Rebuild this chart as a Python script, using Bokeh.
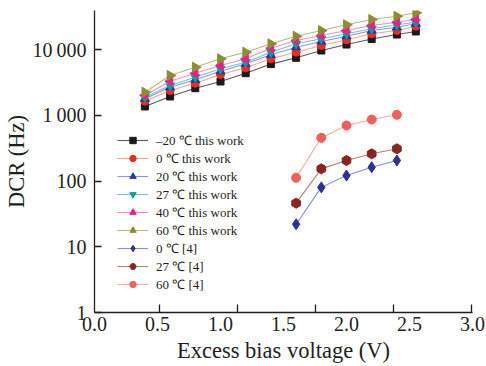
import numpy as np
from bokeh.plotting import figure
from bokeh.models import FixedTicker, NumeralTickFormatter, CustomJSTickFormatter
from bokeh.embed import file_html
from bokeh.resources import INLINE

# ---- data ----
x_this = [0.4, 0.6, 0.8, 1.0, 1.2, 1.4, 1.6, 1.8, 2.0, 2.2, 2.4, 2.55]
dcr_m20 = [1360, 1930, 2580, 3260, 4360, 6000, 7480, 9660, 11900, 14450, 16900, 18800]
dcr_0 = [1640, 2380, 3070, 4170, 5270, 7220, 9100, 11500, 14050, 17330, 19450, 22600]
dcr_20 = [1780, 2670, 3460, 4680, 6060, 8300, 10840, 13240, 15930, 19450, 21830, 24600]
dcr_27 = [1880, 2830, 3790, 5090, 6410, 9100, 12210, 14550, 17330, 20640, 23750, 26010]
dcr_40 = [2000, 3300, 4360, 5710, 7220, 10470, 13700, 16330, 19450, 23180, 26010, 28590]
dcr_60 = [2240, 4030, 5380, 7220, 9100, 12210, 15930, 19450, 23750, 28590, 32130, 36130]

x_ref = [1.6, 1.8, 2.0, 2.2, 2.4]
ref_0 = [22, 80, 121, 162, 205]
ref_27 = [46, 153, 205, 259, 309]
ref_60 = [112, 454, 698, 861, 1016]

x_label_ticks = [0.0, 0.5, 1.0, 1.5, 2.0, 2.5, 3.0]
x_mark_ticks = [0.515, 1.135, 1.755, 2.375, 2.995]
y_ticks = [1, 10, 100, 1000, 10000]
y_tick_labels = ["1", "10", "100", "1\u2009000", "10\u2009000"]

labels = ["\u201320 \u2103 this work", "0 \u2103 this work", "20 \u2103 this work",
          "27 \u2103 this work", "40 \u2103 this work", "60 \u2103 this work",
          "0 \u2103 [4]", "27 \u2103 [4]", "60 \u2103 [4]"]

FONT = "Liberation Serif"
INK = "#231f20"

p = figure(width=486, height=366, output_backend="svg", toolbar_location=None,
           y_axis_type="log", x_range=(0, 3.0), y_range=(1, 39200),
           min_border_left=94, min_border_right=14, min_border_top=10, min_border_bottom=54)
p.outline_line_color = None
p.xgrid.visible = False
p.ygrid.visible = False
p.background_fill_color = "white"
p.border_fill_color = "white"

series = [
    (x_this, dcr_m20, "square", 0.0, 7, "#1a1a1a", "#5a5a5a"),
    (x_this, dcr_0, "circle", 0.0, 8, "#ee2a24", "#f6a58c"),
    (x_this, dcr_20, "triangle", 0.0, 9, "#2b3990", "#8a96d8"),
    (x_this, dcr_27, "inverted_triangle", 0.0, 9, "#139a9e", "#6cc8cc"),
    (x_this, dcr_40, "triangle", np.pi / 2, 9, "#ec1c8c", "#f58cc4"),
    (x_this, dcr_60, "triangle", -np.pi / 2, 10, "#8c8c30", "#b8b880"),
    (x_ref, ref_0, "diamond", 0.0, 11, "#2e3192", "#7f8ee0"),
    (x_ref, ref_27, "hex", np.pi / 2, 10, "#8b2420", "#b88070"),
    (x_ref, ref_60, "circle", 0.0, 9, "#f0605a", "#f8a8a0"),
]

for (xs, ys, mk, ang, sz, mcol, lcol), lab in zip(series, labels):
    p.line(xs, ys, line_color=lcol, line_width=1.1, legend_label=lab)
    p.scatter(xs, ys, marker=mk, angle=ang, size=sz, fill_color=mcol,
              line_color=mcol, legend_label=lab)

# x axis
xa = p.xaxis[0]
xa.ticker = FixedTicker(ticks=x_label_ticks, minor_ticks=x_mark_ticks)
xa.formatter = NumeralTickFormatter(format="0.0")
xa.major_tick_in = 0
xa.major_tick_out = 0
xa.minor_tick_in = 8
xa.minor_tick_out = 0
xa.minor_tick_line_color = INK
xa.minor_tick_line_width = 1.3
xa.axis_label = "Excess bias voltage (V)"

# y axis
ya = p.yaxis[0]
ya.ticker = FixedTicker(ticks=y_ticks)
ya.formatter = CustomJSTickFormatter(
    args=dict(vals=y_ticks, labs=y_tick_labels),
    code="""
for (let i = 0; i < vals.length; i++) {
  if (Math.abs(vals[i] - tick) < 1e-6 * vals[i]) { return labs[i]; }
}
return '';
""")
ya.major_tick_in = 7
ya.major_tick_out = 0
ya.minor_tick_in = 0
ya.minor_tick_out = 0
ya.axis_label = "DCR (Hz)"

for ax in (xa, ya):
    ax.axis_line_color = INK
    ax.axis_line_width = 1.3
    ax.major_tick_line_color = INK
    ax.major_tick_line_width = 1.3
    ax.major_label_text_font = FONT
    ax.major_label_text_font_size = "20px"
    ax.major_label_text_color = INK
    ax.axis_label_text_font = FONT
    ax.axis_label_text_font_size = "22.5px"
    ax.axis_label_text_font_style = "normal"
    ax.axis_label_text_color = INK
xa.major_label_standoff = 4
xa.axis_label_standoff = 4
ya.major_label_standoff = 8
ya.axis_label_standoff = 0

lg = p.legend[0]
lg.location = (23, 19)
lg.border_line_color = None
lg.background_fill_alpha = 0
lg.padding = 0
lg.margin = 0
lg.spacing = 0
lg.glyph_width = 31
lg.glyph_height = 16
lg.label_height = 16
lg.label_standoff = 8
lg.label_text_font = FONT
lg.label_text_font_size = "13px"
lg.label_text_color = INK

open("out.html", "w").write(file_html(p, INLINE))
